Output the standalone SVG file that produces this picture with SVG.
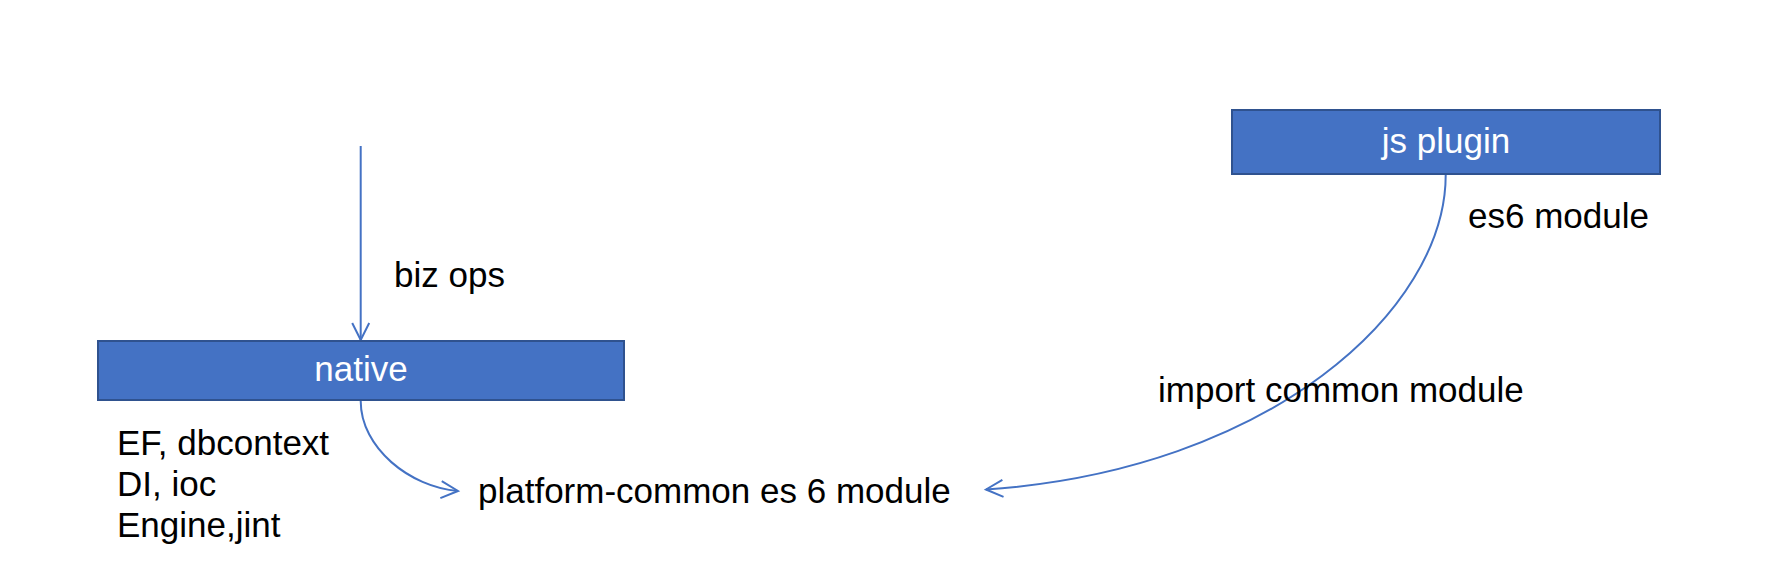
<svg xmlns="http://www.w3.org/2000/svg" width="1790" height="588" viewBox="0 0 1790 588">
  <style>
    .box { fill: #4472C4; stroke: #2F528F; stroke-width: 2; }
    .boxlabel { font-family: "Liberation Sans", Arial, sans-serif; font-size: 35px; fill: #FFFFFF; text-anchor: middle; }
    .label { font-family: "Liberation Sans", Arial, sans-serif; font-size: 35px; fill: #000000; }
    .conn { fill: none; stroke: #4472C4; stroke-width: 2; }
  </style>
  <defs>
    <marker id="arrow" viewBox="-20 -12 24 24" markerWidth="24" markerHeight="24" refX="0" refY="0" orient="auto" markerUnits="userSpaceOnUse">
      <path d="M-17,-8.5 L0,0 L-17,8.5" fill="none" stroke="#4472C4" stroke-width="2"/>
    </marker>
  </defs>
  <rect width="1790" height="588" fill="#FFFFFF"/>

  <g id="connectors">
    <path class="conn" d="M360.7,146 L360.7,340" marker-end="url(#arrow)"/>
    <path class="conn" d="M360.7,401 C360.7,448 410,487 458,491" marker-end="url(#arrow)"/>
    <path class="conn" d="M1445.7,175 C1445.7,310 1270,470 986,489.5" marker-end="url(#arrow)"/>
  </g>

  <g id="node-native">
    <rect class="box" x="98" y="341" width="526" height="59"/>
    <text class="boxlabel" x="361" y="381">native</text>
  </g>

  <g id="node-jsplugin">
    <rect class="box" x="1232" y="110" width="428" height="64"/>
    <text class="boxlabel" x="1446" y="153">js plugin</text>
  </g>

  <g id="node-platform-common">
    <text class="label" x="478" y="503">platform-common es 6 module</text>
  </g>

  <g id="labels">
    <text class="label" x="394" y="287">biz ops</text>
    <text class="label" x="1468" y="228">es6 module</text>
    <text class="label" x="1158" y="402">import common module</text>
    <text class="label" x="117" y="455">EF, dbcontext</text>
    <text class="label" x="117" y="496">DI, ioc</text>
    <text class="label" x="117" y="537">Engine,jint</text>
  </g>
</svg>
